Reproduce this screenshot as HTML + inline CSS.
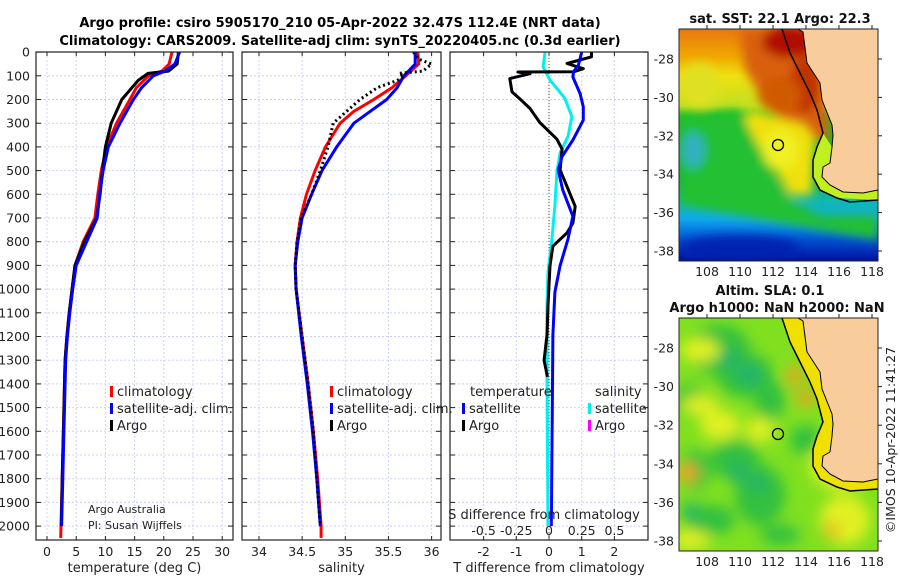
<!DOCTYPE html>
<html><head><meta charset="utf-8"><style>
body{margin:0;background:#fff;}
svg{display:block;font-family:"DejaVu Sans","Liberation Sans",sans-serif;}
</style></head><body>
<svg id="c" width="900" height="580" viewBox="0 0 900 580" xmlns="http://www.w3.org/2000/svg">
<defs>
<filter id="bl" x="-20%" y="-20%" width="140%" height="140%"><feGaussianBlur stdDeviation="5"/></filter>
<filter id="bl2" x="-20%" y="-20%" width="140%" height="140%"><feGaussianBlur stdDeviation="7"/></filter>
<clipPath id="cm1"><rect x="679" y="29" width="199" height="232"/></clipPath>
<clipPath id="cm2"><rect x="679" y="318" width="199" height="233"/></clipPath>
<linearGradient id="sst" x1="0" y1="0" x2="0" y2="1">
<stop offset="0" stop-color="#e87810"/><stop offset="0.12" stop-color="#f0a800"/>
<stop offset="0.2" stop-color="#f0e010"/><stop offset="0.33" stop-color="#c0e020"/>
<stop offset="0.38" stop-color="#20c020"/><stop offset="0.65" stop-color="#10b040"/>
<stop offset="0.74" stop-color="#10b8b0"/><stop offset="0.82" stop-color="#10a8f0"/>
<stop offset="0.91" stop-color="#0050d0"/><stop offset="1" stop-color="#0010a0"/>
</linearGradient>
</defs>
<g font-weight="bold" font-size="13" text-anchor="middle">
<text x="340" y="27">Argo profile: csiro 5905170_210 05-Apr-2022 32.47S 112.4E (NRT data)</text>
<text x="340" y="45">Climatology: CARS2009. Satellite-adj clim: synTS_20220405.nc (0.3d earlier)</text>
</g>
<g id="panels"></g>
<g id="maps"></g>
</svg>
<script>
// ===== profile data (depth in m) =====
const climTdepth = [0,50,80,100,150,200,300,400,500,600,700,800,900,1000,1100,1200,1300,1400,1600,1800,2000,2050];
const climT      = [21.4,20.9,19.7,17.4,15.3,14.2,11.9,10.2,9.3,8.7,8.2,6.2,4.8,4.3,3.8,3.4,3.1,3.0,2.8,2.6,2.4,2.35];
const satTdepth  = [0,50,80,100,150,200,300,400,500,600,700,800,900,1000,1100,1200,1300,1400,1600,1800,2000];
const satT       = [22.7,21.9,20.2,18.2,16.2,14.8,12.5,10.5,9.6,9.0,8.6,6.8,5.0,4.4,3.9,3.5,3.2,3.1,2.9,2.7,2.5];
const argoTdepth = [0,50,80,90,120,200,300,400,500,600,700,800,900,1000,1100,1200,1300,1400,1600,1800,2000];
const argoT      = [22.5,22.3,20.8,17.3,15.6,12.8,11.0,10.0,9.5,9.1,8.5,6.4,4.8,4.3,3.8,3.4,3.1,3.0,2.8,2.6,2.45];

const climSdepth = [0,50,100,150,200,250,300,400,500,600,700,800,900,1000,1200,1400,1600,1800,2000,2050];
const climS      = [35.84,35.85,35.70,35.54,35.33,35.10,34.94,34.77,34.65,34.55,34.48,34.44,34.42,34.43,34.50,34.57,34.63,34.68,34.72,34.72];
const satSdepth  = [0,50,100,150,200,250,300,400,500,600,700,800,900,1000,1200,1400,1600,1800,2000];
const satS       = [35.81,35.81,35.68,35.60,35.48,35.29,35.10,34.90,34.73,34.61,34.50,34.45,34.42,34.43,34.49,34.56,34.62,34.67,34.71];
const argoSdepth = [0,30,50,80,90,100,120,150,200,300,400,500,600,700,800,900,1000,1200,1400,1600,1800,2000];
const argoS      = [35.79,35.85,36.00,35.90,35.62,35.68,35.60,35.37,35.17,34.86,34.80,34.71,34.61,34.49,34.44,34.42,34.43,34.50,34.57,34.63,34.67,34.71];

const dTsatDepth = [0,55,83,105,175,231,287,371,441,497,581,693,789,901,1013,1193,1500,2000];
const dTsat      = [1.0,0.9,0.75,0.73,0.95,1.05,1.05,0.73,0.4,0.28,0.42,0.73,0.58,0.34,0.18,0.12,0.1,0.07];
const dTargoDepth= [0,20,48,70,83,84,91,112,168,196,238,297,367,409,497,567,651,721,763,819,901,1069,1193,1300,1370];
const dTargo     = [1.3,1.3,0.55,1.05,0.75,-0.95,-0.58,-1.2,-1.13,-0.9,-0.58,-0.28,0.24,0.4,0.34,0.55,0.8,0.73,0.55,0.12,0.03,-0.03,-0.06,-0.15,-0.05];
const dSsatDepth = [0,62,118,194,272,356,425,509,649,789,929,1069,1400,2000];
const dSsat      = [-0.03,-0.045,0.008,0.12,0.175,0.145,0.085,0.06,0.045,0.022,-0.008,-0.015,-0.015,-0.008];

const depthTicks = [0,100,200,300,400,500,600,700,800,900,1000,1100,1200,1300,1400,1500,1600,1700,1800,1900,2000];
const tTicks = [0,5,10,15,20,25,30];
const sTicks = [34,34.5,35,35.5,36];
const sTickLabels = ["34","34.5","35","35.5","36"];
const dTTicks = [-2,-1,0,1,2];
const dSTicks = [-0.5,-0.25,0,0.25,0.5];
const dSTickLabels = ["-0.5","-0.25","0","0.25","0.5"];

// ===== scales =====
const yD = d => 52.1 + 0.237*d;
const xT = t => 47 + 5.84*t;
const xS = s => 259 + 86.3*(s-34);
const xDT = t => 549 + 32.7*t;
const xDS = s => 549 + 130.8*s;

const NS = 'http://www.w3.org/2000/svg';
const P = document.getElementById('panels');
function mk(tag, attrs, parent){
  const e = document.createElementNS(NS, tag);
  for (const k in attrs) e.setAttribute(k, attrs[k]);
  (parent||P).appendChild(e); return e;
}
function txt(x,y,s,attrs,parent){ const e = mk('text',Object.assign({x:x,y:y},attrs||{}),parent); e.textContent=s; return e; }

const panels = [
  {name:'temperature-panel', x0:36, x1:233, ticks:tTicks, labels:tTicks.map(String), sx:xT, xlabel:'temperature (deg C)'},
  {name:'salinity-panel', x0:242, x1:441, ticks:sTicks, labels:sTickLabels, sx:xS, xlabel:'salinity'},
  {name:'difference-panel', x0:450, x1:648, ticks:dTTicks, labels:dTTicks.map(String), sx:xDT, xlabel:'T difference from climatology'}
];
const yTop = 52, yBot = 540;
panels.forEach((p,i) => {
  const g = mk('g',{});
  
  
  depthTicks.forEach(d => {
    const l = mk('line',{x1:p.x0,x2:p.x1,y1:yD(d),y2:yD(d),stroke:'#d0d3f0','stroke-width':1,'stroke-dasharray':'2,2'},g);
    
    
  });
  p.ticks.forEach((t,k) => {
    const x = p.sx(t);
    const l = mk('line',{x1:x,x2:x,y1:yTop,y2:yBot,stroke:'#d0d3f0','stroke-width':1,'stroke-dasharray':'2,2'},g);
    
    
    mk('line',{x1:x,x2:x,y1:yBot,y2:yBot-4,stroke:'#222'},g);
    mk('line',{x1:x,x2:x,y1:yTop,y2:yTop+4,stroke:'#222'},g);
    const tl = txt(x,556,p.labels[k],{'font-size':12.5,'text-anchor':'middle',fill:'#222'},g);
    
    
  });
  depthTicks.forEach(d => {
    mk('line',{x1:p.x0,x2:p.x0+5,y1:yD(d),y2:yD(d),stroke:'#222'},g);
    mk('line',{x1:p.x1,x2:p.x1-5,y1:yD(d),y2:yD(d),stroke:'#222'},g);
  });
  const xl = txt((p.x0+p.x1)/2,572,p.xlabel,{'font-size':13,'text-anchor':'middle',fill:'#222'},g);
  
  
  p.g = g;
});
depthTicks.forEach(d => {
  const t = txt(30,yD(d)+4.5,String(d),{'font-size':12.5,'text-anchor':'end',fill:'#222'});
  
  
});

function line(depths, vals, sx, color, name, extra){
  const pts = depths.map((d,i)=> sx(vals[i]).toFixed(1)+','+yD(d).toFixed(1)).join(' ');
  const e = mk('polyline',Object.assign({points:pts,fill:'none',stroke:color,'stroke-width':3,'stroke-linejoin':'round'},extra||{}));
  
  
  return e;
}
const z = mk('line',{x1:xDT(0),x2:xDT(0),y1:yTop,y2:yBot,stroke:'#445533','stroke-width':1,'stroke-dasharray':'1,2'});



line(climTdepth, climT, xT, '#ff0000', 'climatology-temperature-line');
line(argoTdepth, argoT, xT, '#000000', 'argo-temperature-line');
line(satTdepth, satT, xT, '#0000ff', 'satellite-temperature-line');

line(climSdepth, climS, xS, '#ff0000', 'climatology-salinity-line');
line(satSdepth, satS, xS, '#0000ff', 'satellite-salinity-line');
line(argoSdepth, argoS, xS, '#000000', 'argo-salinity-line', {'stroke-dasharray':'2,3'});

line(dSsatDepth, dSsat, xDS, '#00f0f0', 'satellite-salinity-diff-line');
line(dTargoDepth, dTargo, xDT, '#000000', 'argo-temperature-diff-line');
line(dTsatDepth, dTsat, xDT, '#0000ff', 'satellite-temperature-diff-line');

panels.forEach(p => {
  const r = mk('rect',{x:p.x0,y:yTop,width:p.x1-p.x0,height:yBot-yTop,fill:'none',stroke:'#222','stroke-width':1.2});
  
  
});

function legItem(x,y,color,label,name){
  const g = mk('g',{});
  
  
  mk('rect',{x:x,y:y-10,width:3,height:11,fill:color},g);
  txt(x+7,y,label,{'font-size':13,fill:'#222'},g);
}
legItem(110,396,'#ff0000','climatology','legend-climatology');
legItem(110,413,'#0000ff','satellite-adj. clim.','legend-satellite-adj');
legItem(110,430,'#000000','Argo','legend-argo');
legItem(330,396,'#ff0000','climatology','legend-climatology-s');
legItem(330,413,'#0000ff','satellite-adj. clim.','legend-satellite-adj-s');
legItem(330,430,'#000000','Argo','legend-argo-s');
const lt = txt(470,396,'temperature',{'font-size':13,fill:'#222'});  
const ls = txt(595,396,'salinity',{'font-size':13,fill:'#222'});  
legItem(462,413,'#0000ff','satellite','legend-t-satellite');
legItem(462,430,'#000000','Argo','legend-t-argo');
legItem(588,413,'#00f0f0','satellite','legend-s-satellite');
legItem(588,430,'#ff00ff','Argo','legend-s-argo');

const st = txt(544,519,'S difference from climatology',{'font-size':13,'text-anchor':'middle',fill:'#222'});
 
dSTicks.forEach((s,k)=>{
  const t = txt(xDS(s),535,dSTickLabels[k],{'font-size':12.5,'text-anchor':'middle',fill:'#222'});
   
});
const cr = mk('g',{});
 
txt(88,513,'Argo Australia',{'font-size':11,fill:'#222'},cr);
txt(88,529,'PI: Susan Wijffels',{'font-size':11,fill:'#222'},cr);

// ===== maps =====
const M = document.getElementById('maps');
const lonTicks = [108,110,112,114,116,118];
const latTicks = [-28,-30,-32,-34,-36,-38];
const xLon = l => 707 + 16.5*(l-108);
const land = "798,29 803,32 807,63 820,83 822,100 832,125 833,135 832,147 830,163 823,167 822,177 830,185 843,192 863,193 878,190 878,29";
const shelf = "782,29 790,53 797,67 810,93 817,110 823,133 817,147 813,160 813,177 820,190 837,198 850,202 878,200";
function drawMap(name, yOff, clipId, bgFn, lat28, latStep){
  const g = mk('g',{},M);
  
  
  const inner = mk('g',{'clip-path':'url(#'+clipId+')'},g);
  bgFn(inner);
  const gl = mk('g',{transform:'translate(0,'+yOff+')'},inner);
  mk('polyline',{points:shelf,fill:'none',stroke:'#000','stroke-width':1.5},gl);
  mk('polygon',{points:land,fill:'#f9cc9c',stroke:'#000','stroke-width':1},gl);
  const c = mk('circle',{cx:778,cy:145,r:5.5,fill:'none',stroke:'#000','stroke-width':1.3},gl);
  
  
  const fy0 = 29+yOff, fy1 = 261+yOff + (yOff?1:0);
  mk('rect',{x:679,y:fy0,width:199,height:fy1-fy0,fill:'none',stroke:'#222','stroke-width':1},g);
  lonTicks.forEach(l=>{
    const x = xLon(l);
    mk('line',{x1:x,x2:x,y1:fy0,y2:fy0-4,stroke:'#222'},g);
    const t = txt(x,fy1+15,String(l),{'font-size':12.5,'text-anchor':'middle',fill:'#222'},g);
     
  });
  latTicks.forEach(la=>{
    const y = lat28 + latStep*(-28-la);
    mk('line',{x1:878,x2:882,y1:y,y2:y,stroke:'#222'},g);
    const t = txt(674,y+4.5,String(la),{'font-size':12.5,'text-anchor':'end',fill:'#222'},g);
     
  });
}
drawMap('sst-map',0,'cm1',function(g){
  mk('rect',{x:679,y:29,width:199,height:232,fill:'url(#sst)'},g);
  const b = mk('g',{filter:'url(#bl)'},g);
  mk('polygon',{points:"740,29 820,29 830,140 800,140 770,110 745,70",fill:'#d86008'},b);
  mk('ellipse',{cx:790,cy:42,rx:28,ry:16,fill:'#b00800'},b);
  mk('ellipse',{cx:805,cy:85,rx:15,ry:28,fill:'#c03000'},b);
  mk('ellipse',{cx:780,cy:95,rx:22,ry:18,fill:'#d05a00'},b);
  mk('polygon',{points:"750,110 805,125 815,140 812,195 790,195 770,160 740,125",fill:'#f0e010'},b);
  mk('ellipse',{cx:780,cy:150,rx:18,ry:20,fill:'#f0f020'},b);
  mk('polygon',{points:"679,115 740,110 765,160 790,200 820,215 878,215 878,240 679,205",fill:'#20c030'},b);
  mk('ellipse',{cx:700,cy:85,rx:20,ry:22,fill:'#e0e020'},b);
  mk('ellipse',{cx:693,cy:150,rx:12,ry:18,fill:'#30b0c0'},b);
  mk('ellipse',{cx:740,cy:248,rx:60,ry:12,fill:'#0020b0'},b);
  mk('polygon',{points:"817,147 813,160 813,177 820,190 837,198 878,200 878,190 843,192 830,185 822,177 823,167 830,163 832,147 823,133",fill:'#c0f020'},g);
},59,19.2);
drawMap('sla-map',289,'cm2',function(g){
  mk('rect',{x:679,y:318,width:199,height:233,fill:'#80e020'},g);
  const b = mk('g',{filter:'url(#bl2)'},g);
  [[720,350,30,25],[745,375,28,22],[690,400,15,15],[770,400,15,20],[735,460,25,20],[805,440,15,15],[760,495,25,30],[695,470,15,20],[710,520,25,15],[780,535,20,10],[860,330,20,10]].forEach(e=>{
    mk('ellipse',{cx:e[0],cy:e[1],rx:e[2],ry:e[3],fill:'#30c040'},b);
  });
  [[750,375,12,10],[738,473,8,10],[758,483,8,8],[690,510,8,8],[730,360,10,8]].forEach(e=>{
    mk('ellipse',{cx:e[0],cy:e[1],rx:e[2],ry:e[3],fill:'#20b070'},b);
  });
  [[700,350,20,12],[700,405,18,10],[760,430,15,12],[840,465,30,25],[845,520,25,25],[690,540,20,10],[720,425,20,15]].forEach(e=>{
    mk('ellipse',{cx:e[0],cy:e[1],rx:e[2],ry:e[3],fill:'#e0f020'},b);
  });
  [[795,375,8,10],[806,398,10,8],[688,473,10,10],[832,530,7,7]].forEach(e=>{
    mk('ellipse',{cx:e[0],cy:e[1],rx:e[2],ry:e[3],fill:'#f0a020'},b);
  });
  mk('polygon',{points:"782,318 790,342 797,356 810,382 817,399 823,422 817,436 813,449 813,466 820,479 837,487 850,491 878,489 878,318",fill:'#f0e000'},g);
},348,19.3);
const t1 = txt(780,23,'sat. SST: 22.1 Argo: 22.3',{'font-size':13,'font-weight':'bold','text-anchor':'middle',fill:'#111'},M);
 
const t2 = txt(770,295,'Altim. SLA: 0.1',{'font-size':13,'font-weight':'bold','text-anchor':'middle',fill:'#111'},M);
 
const t3 = txt(777,312,'Argo h1000: NaN h2000: NaN',{'font-size':13,'font-weight':'bold','text-anchor':'middle',fill:'#111'},M);
 
const t4 = txt(0,0,'©IMOS 10-Apr-2022 11:41:27',{'font-size':12.5,'text-anchor':'middle',fill:'#222',transform:'translate(895,440) rotate(-90)'},M);
 
</script>
</body></html>
